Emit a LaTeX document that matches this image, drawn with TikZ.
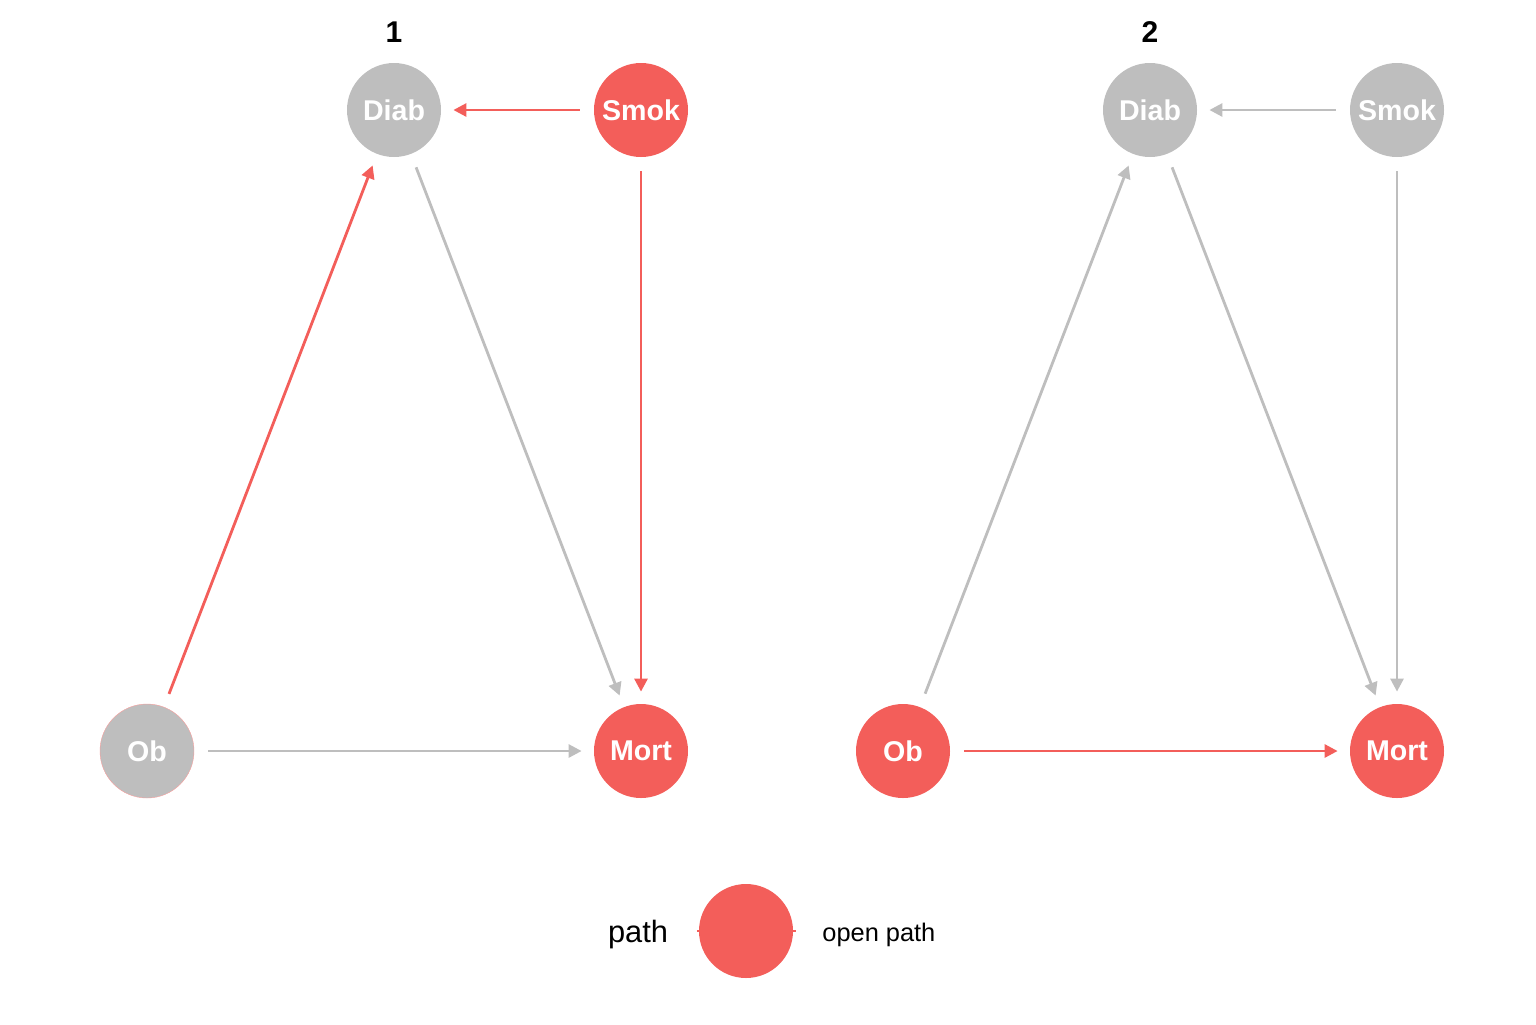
\documentclass[tikz,border=0pt]{standalone}
\usepackage{fontspec}
\setmainfont{Liberation Sans}
\usetikzlibrary{arrows.meta}
\definecolor{pathred}{HTML}{F35E5A}
\definecolor{nopath}{HTML}{BEBEBE}
\tikzset{
  var/.style={circle,minimum size=47pt,inner sep=0pt,text=white,
    font=\fontsize{14.3}{16}\selectfont\bfseries},
  open/.style={var,fill=pathred},
  closed/.style={var,fill=nopath},
  edge/.style={line width=1.4pt,-{Triangle[length=6.5pt,width=6.5pt]},
    shorten <=7pt,shorten >=6pt},
}
\begin{document}
\begin{tikzpicture}[x=0.5pt,y=-0.5pt]
\useasboundingbox (0,0) rectangle (1536,1024);

% panel 1
\node[font=\fontsize{15}{18}\selectfont\bfseries] (t1) at (394,32) {1};
\node[closed] (D1) at (394,110) {Diab};
\node[open] (S1) at (641,110) {Smok};
\node[closed,draw=pathred!60,line width=0.2pt] (O1) at (147,751) {Ob};
\node[open] (M1) at (641,751) {Mort};

\draw[edge,pathred] (S1) -- (D1);
\draw[edge,pathred] (O1) -- (D1);
\draw[edge,pathred] (S1) -- (M1);
\draw[edge,nopath] (D1) -- (M1);
\draw[edge,nopath] (O1) -- (M1);

% panel 2
\node[font=\fontsize{15}{18}\selectfont\bfseries] (t2) at (1150,32) {2};
\node[closed] (D2) at (1150,110) {Diab};
\node[closed] (S2) at (1397,110) {Smok};
\node[open] (O2) at (903,751) {Ob};
\node[open] (M2) at (1397,751) {Mort};

\draw[edge,nopath] (S2) -- (D2);
\draw[edge,nopath] (O2) -- (D2);
\draw[edge,nopath] (S2) -- (M2);
\draw[edge,nopath] (D2) -- (M2);
\draw[edge,pathred] (O2) -- (M2);

% legend
\node[font=\fontsize{15.4}{18}\selectfont] (lt) at (638,935) {path};
\coordinate (kl) at (697,931);
\coordinate (kr) at (796,931);
\draw[pathred,line width=1.4pt] (kl) -- (kr);
\node[open] (key) at (746,931) {};
\node[font=\fontsize{12.7}{15}\selectfont,anchor=west,inner sep=0pt] (lk) at (822,935) {open path};
\end{tikzpicture}
\end{document}
